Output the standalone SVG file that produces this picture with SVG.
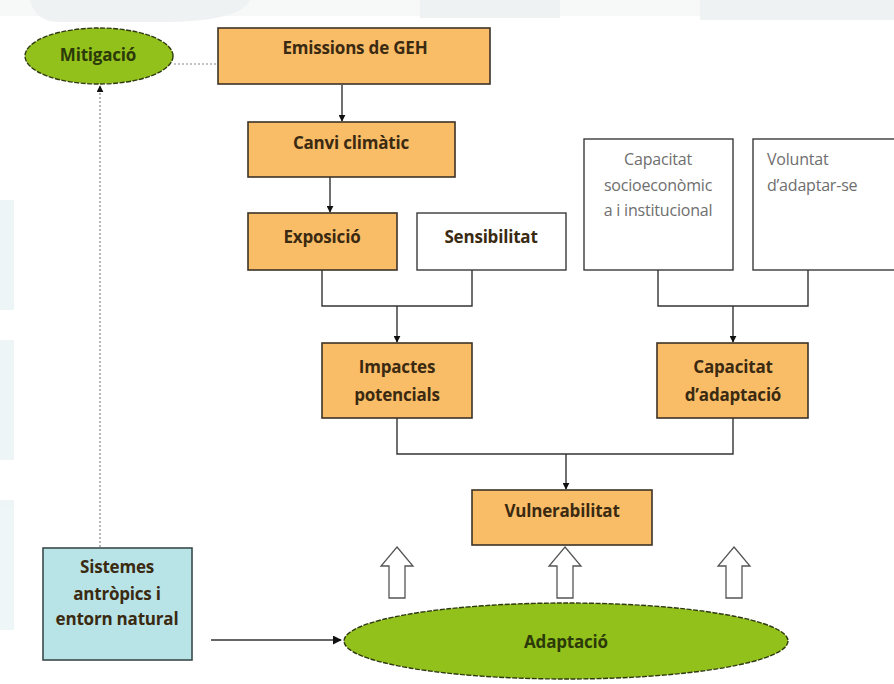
<svg xmlns="http://www.w3.org/2000/svg" width="894" height="684" viewBox="0 0 894 684">
<style>
.org{fill:#fabd67;stroke:#3d3326;stroke-width:1.6}
.wht{fill:#ffffff;stroke:#3a3a3a;stroke-width:1.4}
.grn{fill:#93c11c;stroke:#2f3a10;stroke-width:1.4;stroke-dasharray:5 1.5}
.cyn{fill:#b9e4e7;stroke:#3a4a4c;stroke-width:1.6}
.t{font-family:"Open Sans","Liberation Sans",sans-serif;font-weight:700;font-size:17px;fill:#3a2a12;text-anchor:middle;letter-spacing:-0.2px}
.tg{font-family:"Open Sans","Liberation Sans",sans-serif;font-size:16px;fill:#6e6e6e;letter-spacing:-0.2px}
.tk{fill:#2c3a0a}
.ln{fill:none;stroke:#333;stroke-width:1.4}
.dot{fill:none;stroke:#888;stroke-width:1.2;stroke-dasharray:2 2}
.hol{fill:#fff;stroke:#555;stroke-width:1.3}
</style>
<defs>
<marker id="ah" viewBox="0 0 10 10" refX="9" refY="5" markerWidth="7" markerHeight="7" orient="auto" markerUnits="userSpaceOnUse">
<path d="M0,0 L10,5 L0,10 z" fill="#111"/>
</marker>
<marker id="ah2" viewBox="0 0 10 10" refX="9" refY="5" markerWidth="9" markerHeight="9" orient="auto" markerUnits="userSpaceOnUse">
<path d="M0,0 L10,5 L0,10 z" fill="#111"/>
</marker>
</defs>
<rect width="894" height="684" fill="#ffffff"/>
<g id="watermark" opacity="0.6">
<rect x="0" y="0" width="894" height="16" fill="#f2f4f5"/>
<path d="M30,0 H250 Q240,22 160,22 H60 Q35,22 30,0 Z" fill="#e6eaec"/>
<path d="M420,0 H560 V18 H420 Z" fill="#e6eaec"/>
<path d="M700,0 H894 V20 H700 Z" fill="#e6eaec"/>
<rect x="0" y="200" width="14" height="110" fill="#e3f0f2"/>
<rect x="0" y="340" width="14" height="120" fill="#e3f0f2"/>
<rect x="0" y="500" width="14" height="130" fill="#e3f0f2"/>
</g>
<g id="connectors">
<line class="dot" x1="174" y1="64" x2="218" y2="64"/>
<line class="dot" x1="100" y1="547" x2="100" y2="86" marker-end="url(#ah)"/>
<line class="ln" x1="342" y1="85" x2="342" y2="121" marker-end="url(#ah)"/>
<line class="ln" x1="330" y1="177" x2="330" y2="212" marker-end="url(#ah)"/>
<polyline class="ln" points="322,270 322,306 472,306 472,270"/>
<line class="ln" x1="397" y1="306" x2="397" y2="342" marker-end="url(#ah)"/>
<polyline class="ln" points="658,270 658,306 808,306 808,270"/>
<line class="ln" x1="733" y1="306" x2="733" y2="342" marker-end="url(#ah)"/>
<polyline class="ln" points="397,418 397,454 733,454 733,418"/>
<line class="ln" x1="566" y1="454" x2="566" y2="489" marker-end="url(#ah)"/>
<line class="ln" x1="211" y1="640" x2="341" y2="640" marker-end="url(#ah2)"/>
<polygon class="hol" points="397,547 413,566 405,566 405,598 389,598 389,566 381,566"/>
<polygon class="hol" points="565,547 581,566 573,566 573,598 557,598 557,566 549,566"/>
<polygon class="hol" points="734,547 750,566 742,566 742,598 726,598 726,566 718,566"/>
</g>
<g id="mitigacio">
<ellipse class="grn" cx="99" cy="56" rx="74" ry="28"/>
<text class="t tk" x="98" y="61" font-size="14.5">Mitigació</text>
</g>
<g id="emissions">
<rect class="org" x="218" y="28" width="272" height="56"/>
<text class="t" x="355" y="54" font-size="14.5">Emissions de GEH</text>
</g>
<g id="canvi">
<rect class="org" x="248" y="122" width="207" height="55"/>
<text class="t" x="351" y="149">Canvi climàtic</text>
</g>
<g id="exposicio">
<rect class="org" x="248" y="213" width="149" height="57"/>
<text class="t" x="322" y="243">Exposició</text>
</g>
<g id="sensibilitat">
<rect class="wht" x="417" y="213" width="149" height="57"/>
<text class="t" x="491" y="243" fill="#333">Sensibilitat</text>
</g>
<g id="capacitat-socio">
<rect class="wht" x="584" y="139" width="149" height="131"/>
<text class="tg" x="658" y="165" text-anchor="middle">Capacitat</text>
<text class="tg" x="658" y="191" text-anchor="middle">socioeconòmic</text>
<text class="tg" x="658" y="216" text-anchor="middle">a i institucional</text>
</g>
<g id="voluntat">
<rect class="wht" x="753" y="139" width="150" height="131"/>
<text class="tg" x="767" y="165">Voluntat</text>
<text class="tg" x="767" y="191">d’adaptar-se</text>
</g>
<g id="impactes">
<rect class="org" x="322" y="343" width="150" height="75"/>
<text class="t" x="397" y="373">Impactes</text>
<text class="t" x="397" y="401">potencials</text>
</g>
<g id="capacitat-adaptacio">
<rect class="org" x="657" y="343" width="151" height="75"/>
<text class="t" x="733" y="373">Capacitat</text>
<text class="t" x="733" y="401">d’adaptació</text>
</g>
<g id="vulnerabilitat">
<rect class="org" x="472" y="490" width="180" height="55"/>
<text class="t" x="562" y="517">Vulnerabilitat</text>
</g>
<g id="sistemes">
<rect class="cyn" x="43" y="548" width="149" height="112"/>
<text class="t" x="117" y="573" font-size="15">Sistemes</text>
<text class="t" x="117" y="600" font-size="15">antròpics i</text>
<text class="t" x="117" y="625" font-size="15">entorn natural</text>
</g>
<g id="adaptacio">
<ellipse class="grn" cx="566" cy="641" rx="222" ry="38"/>
<text class="t tk" x="566" y="648" font-size="19">Adaptació</text>
</g>
</svg>
